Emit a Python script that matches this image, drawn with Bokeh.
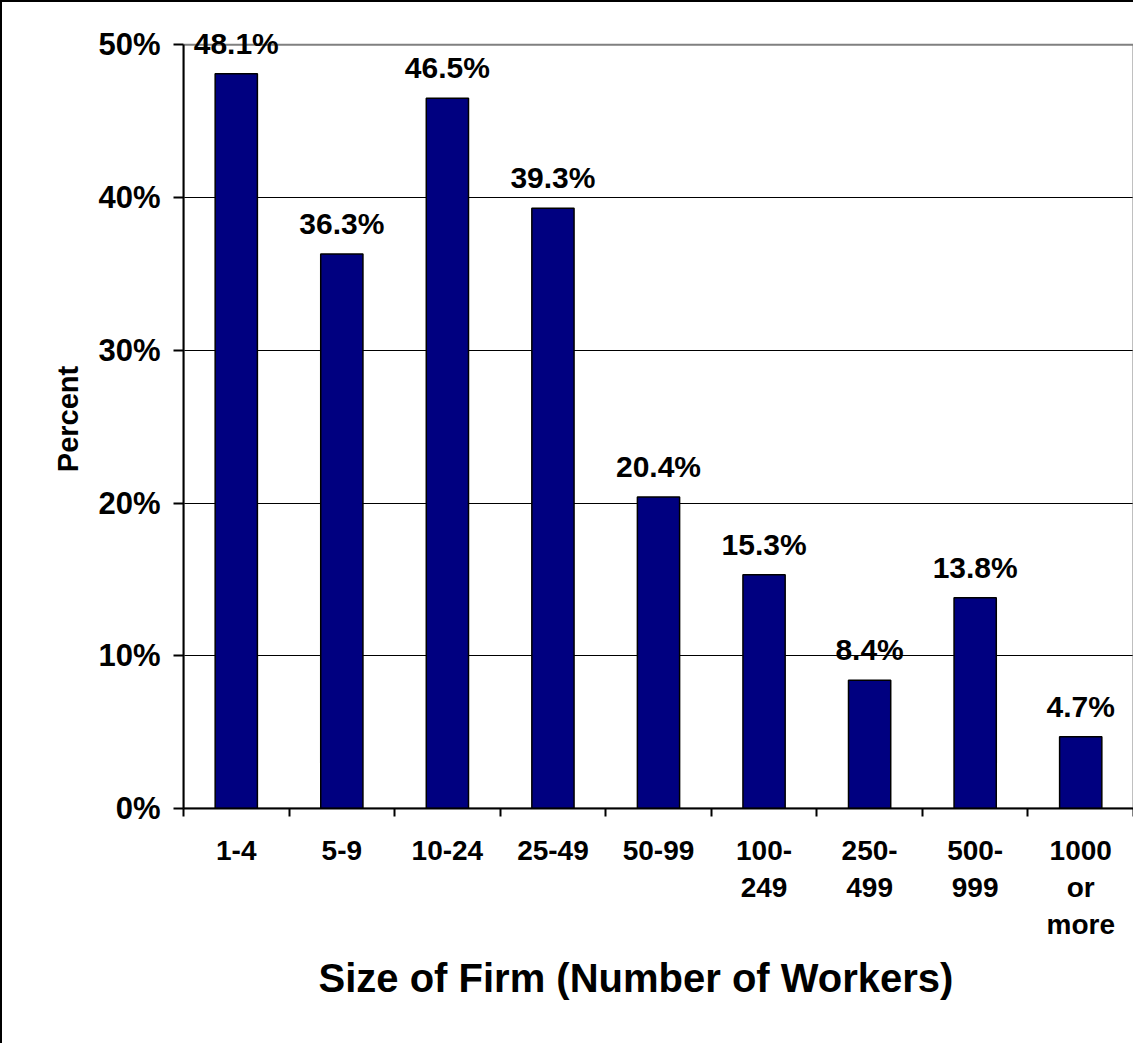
import numpy as np
from bokeh.plotting import figure
from bokeh.models import (Range1d, FixedTicker, PrintfTickFormatter, ColumnDataSource,
                          Title, LabelSet, BoxAnnotation)
from bokeh.embed import file_html
from bokeh.resources import INLINE
from bokeh.core.properties import value

categories = ["1-4", "5-9", "10-24", "25-49", "50-99", "100-\n249", "250-\n499", "500-\n999", "1000\nor\nmore"]
percents = [48.1, 36.3, 46.5, 39.3, 20.4, 15.3, 8.4, 13.8, 4.7]
y_ticks = [0, 10, 20, 30, 40, 50]
x_title = "Size of Firm (Number of Workers)"
y_title = "Percent"

FONT = "Liberation Sans"
n = len(categories)
y_max = y_ticks[-1]
xpos = [i + 0.5 for i in range(n)]
src = ColumnDataSource(dict(x=xpos, top=percents, label=[f"{v:.1f}%" for v in percents]))

# y range extends a little above 50% so the top data label is not clipped
p = figure(width=1133, height=1043, x_range=Range1d(0, n), y_range=Range1d(0, 51.0),
           output_backend="svg", toolbar_location=None,
           min_border_left=181, min_border_right=2, min_border_top=27, min_border_bottom=237,
           styles={"border-left": "2px solid black", "border-top": "2px solid black"})
p.background_fill_color = "white"
p.border_fill_color = "white"
p.outline_line_color = None

# plot-area frame (gray top/right)
frame = BoxAnnotation(left=0, right=n, bottom=0, top=y_max, fill_color=None, fill_alpha=0,
                      line_color="#808080", line_alpha=1.0, line_width=2, level="underlay")
p.add_layout(frame)

p.vbar(x="x", top="top", bottom=0, width=0.4, source=src,
       fill_color="#000080", line_color="black", line_width=1.5)

labels = LabelSet(x="x", y="top", text="label", source=src, y_offset=20,
                  text_align="center", text_baseline="alphabetic",
                  text_font=value(FONT), text_font_style="bold", text_font_size="30px",
                  text_color="black")
p.add_layout(labels)

# x axis
xa = p.xaxis[0]
xa.ticker = FixedTicker(ticks=xpos, minor_ticks=list(range(n + 1)))
xa.major_label_overrides = {x: c for x, c in zip(xpos, categories)}
xa.major_tick_line_color = None
xa.major_tick_out = 8
xa.major_tick_in = 0
xa.minor_tick_line_color = "black"
xa.minor_tick_line_width = 2
xa.minor_tick_out = 8
xa.minor_tick_in = 0
xa.axis_line_width = 2
xa.axis_line_color = "black"
xa.major_label_text_font = FONT
xa.major_label_text_font_style = "bold"
xa.major_label_text_font_size = "28px"
xa.major_label_text_line_height = 1.2
xa.major_label_text_color = "black"
xa.major_label_standoff = 18

# y axis
ya = p.yaxis[0]
ya.ticker = FixedTicker(ticks=y_ticks)
ya.bounds = (0, y_max)
ya.formatter = PrintfTickFormatter(format="%d%%")
ya.major_tick_out = 10
ya.major_tick_in = 0
ya.major_tick_line_width = 2
ya.major_tick_line_color = "black"
ya.minor_tick_line_color = None
ya.axis_line_width = 2
ya.axis_line_color = "black"
ya.major_label_text_font = FONT
ya.major_label_text_font_style = "bold"
ya.major_label_text_font_size = "31px"
ya.major_label_text_color = "black"
ya.major_label_standoff = 13
ya.axis_label = y_title
ya.axis_label_text_font = FONT
ya.axis_label_text_font_style = "bold"
ya.axis_label_text_font_size = "29px"
ya.axis_label_text_color = "black"
ya.axis_label_standoff = 11

p.xgrid.grid_line_color = None
p.ygrid.ticker = FixedTicker(ticks=y_ticks[1:-1])
p.ygrid.grid_line_color = "black"
p.ygrid.grid_line_width = 1

t = Title(text=x_title, align="left", offset=135, standoff=22,
          text_font=FONT, text_font_style="bold", text_font_size="40px", text_color="black")
p.add_layout(t, "below")

open("out.html", "w").write(file_html(p, INLINE))
